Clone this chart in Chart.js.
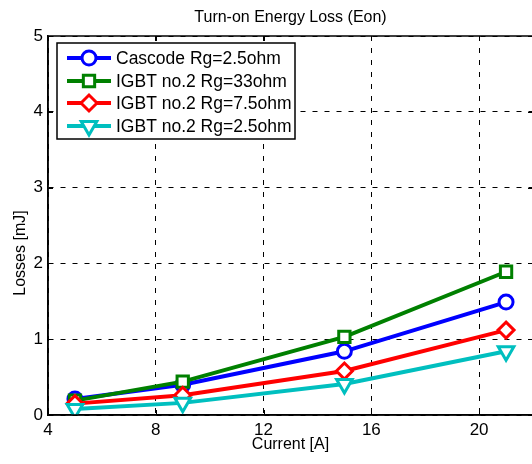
<!DOCTYPE html>
<html>
<head>
<meta charset="utf-8">
<script src="https://cdn.jsdelivr.net/npm/chart.js@4.4.1/dist/chart.umd.min.js"></script>
<style>
    body { margin: 0; background: #fff; overflow: hidden; }
    #wrap { width: 545px; height: 464px; }
</style>
</head>
<body>
<div id="wrap"><canvas id="eon-chart" width="545" height="464"></canvas></div>
<script>
// Donnees
const currents = [5, 9, 15, 21];
const cascodeRg25 = [0.21, 0.40, 0.84, 1.49];
const igbtRg33 = [0.19, 0.44, 1.03, 1.89];
const igbtRg75 = [0.15, 0.26, 0.58, 1.12];
const igbtRg25 = [0.08, 0.16, 0.41, 0.84];
const seriesNames = ['Cascode Rg=2.5ohm', 'IGBT no.2 Rg=33ohm', 'IGBT no.2 Rg=7.5ohm', 'IGBT no.2 Rg=2.5ohm'];
const xTicks = [4, 8, 12, 16, 20];
const yTicks = [0, 1, 2, 3, 4, 5];

const FONT = '"Liberation Sans", Arial, sans-serif';

function toPoints(values) {
    return values.map((v, i) => ({ x: currents[i], y: v }));
}

function makeDataset(label, values, color, style, radius, rotation, order) {
    return {
        label: label,
        data: toPoints(values),
        borderColor: color,
        borderWidth: 4,
        pointStyle: style,
        pointRadius: radius,
        pointRotation: rotation,
        pointBorderWidth: 3,
        pointBorderColor: color,
        pointBackgroundColor: '#fff',
        tension: 0,
        order: order
    };
}

const datasets = [
    makeDataset(seriesNames[0], cascodeRg25, '#0000ff', 'circle', 7, 0, 4),
    makeDataset(seriesNames[1], igbtRg33, '#008000', 'rect', 8, 0, 3),
    makeDataset(seriesNames[2], igbtRg75, '#ff0000', 'rectRot', 8, 0, 2),
    makeDataset(seriesNames[3], igbtRg25, '#00bfbf', 'triangle', 9, 180, 1)
];

// Marqueur de legende (helpers de Chart.js si dispo)
function drawMarker(ctx, ds, x, y) {
    if (Chart.helpers && Chart.helpers.drawPoint) {
        Chart.helpers.drawPoint(ctx, {
            pointStyle: ds.pointStyle,
            radius: ds.pointRadius,
            rotation: ds.pointRotation,
            borderWidth: 3
        }, x, y);
    } else {
        ctx.beginPath();
        ctx.arc(x, y, ds.pointRadius, 0, Math.PI * 2);
        ctx.fill();
        ctx.stroke();
    }
}

// Cadre, petites graduations interieures, titres et legende facon MATLAB
const matlabDecor = {
    id: 'matlabDecor',
    beforeDatasetsDraw(chart) {
        const ctx = chart.ctx;
        const area = chart.chartArea;
        const xs = chart.scales.x, ys = chart.scales.y;
        ctx.save();
        ctx.strokeStyle = '#000';
        ctx.lineWidth = 1;
        ctx.beginPath();
        xTicks.forEach(t => {
            const px = Math.round(xs.getPixelForValue(t)) + 0.5;
            ctx.moveTo(px, area.bottom); ctx.lineTo(px, area.bottom - 5);
            ctx.moveTo(px, area.top); ctx.lineTo(px, area.top + 5);
        });
        yTicks.forEach(t => {
            const py = Math.round(ys.getPixelForValue(t)) + 0.5;
            ctx.moveTo(area.left, py); ctx.lineTo(area.left + 5, py);
            ctx.moveTo(area.right, py); ctx.lineTo(area.right - 5, py);
        });
        ctx.stroke();
        ctx.restore();
    },
    afterDatasetsDraw(chart) {
        const ctx = chart.ctx;
        const area = chart.chartArea;
        ctx.save();
        // cadre
        ctx.strokeStyle = '#000';
        ctx.lineWidth = 1.5;
        ctx.strokeRect(area.left, area.top, area.right - area.left, area.bottom - area.top);

        // titres
        ctx.fillStyle = '#000';
        ctx.textAlign = 'center';
        ctx.textBaseline = 'middle';
        ctx.font = '16px ' + FONT;
        ctx.fillText('Turn-on Energy Loss (Eon)', (area.left + area.right) / 2, 18);
        ctx.fillText('Current [A]', (area.left + area.right) / 2, 445);
        ctx.save();
        ctx.translate(21, 253);
        ctx.rotate(-Math.PI / 2);
        ctx.fillText('Losses [mJ]', 0, 0);
        ctx.restore();

        // legende
        ctx.fillStyle = '#fff';
        ctx.fillRect(57, 43, 238, 96);
        ctx.strokeStyle = '#000';
        ctx.lineWidth = 1.5;
        ctx.strokeRect(57, 43, 238, 96);
        const rows = [58, 81, 103, 126];
        ctx.font = '17.5px ' + FONT;
        ctx.textAlign = 'left';
        chart.data.datasets.forEach((ds, i) => {
            const y = rows[i];
            ctx.strokeStyle = ds.borderColor;
            ctx.lineWidth = 4;
            ctx.beginPath();
            ctx.moveTo(67, y); ctx.lineTo(111, y);
            ctx.stroke();
            ctx.fillStyle = '#fff';
            ctx.lineWidth = 3;
            drawMarker(ctx, ds, 89, y);
            ctx.fillStyle = '#000';
            ctx.fillText(ds.label, 116, y + 1);
        });
        ctx.restore();
    }
};

new Chart(document.getElementById('eon-chart'), {
    type: 'line',
    data: { datasets: datasets },
    plugins: [matlabDecor],
    options: {
        responsive: false,
        animation: false,
        layout: { padding: { top: 36, right: 11, left: 0, bottom: 0 } },
        plugins: {
            legend: { display: false },
            title: { display: false },
            tooltip: { enabled: false }
        },
        scales: {
            x: {
                type: 'linear',
                min: 4,
                max: 22,
                afterBuildTicks: scale => { scale.ticks = xTicks.map(v => ({ value: v })); },
                afterFit: scale => { scale.height = 49; },
                ticks: { color: '#000', font: { family: FONT, size: 17 }, padding: 5, maxRotation: 0 },
                grid: { color: '#000', lineWidth: 1, drawTicks: false },
                border: { display: true, color: '#000', width: 1.5, dash: [5, 7] }
            },
            y: {
                min: 0,
                max: 5,
                afterBuildTicks: scale => { scale.ticks = yTicks.map(v => ({ value: v })); },
                afterFit: scale => { scale.width = 48; },
                ticks: { color: '#000', font: { family: FONT, size: 17 }, padding: 5 },
                grid: { color: '#000', lineWidth: 1, drawTicks: false },
                border: { display: true, color: '#000', width: 1.5, dash: [5, 7] }
            }
        }
    }
});
</script>
</body>
</html>
